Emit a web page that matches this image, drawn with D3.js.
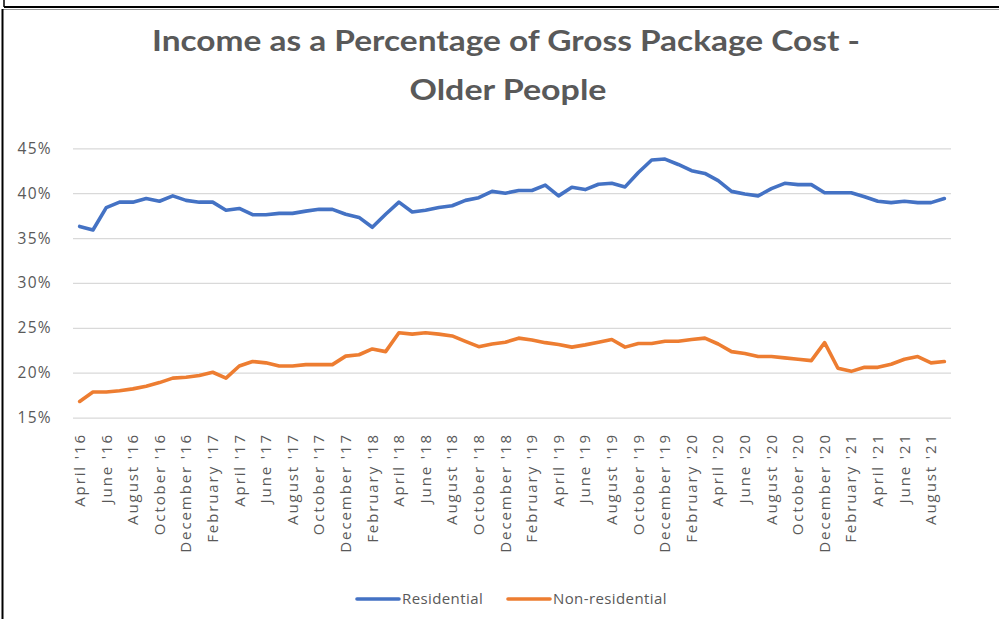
<!DOCTYPE html>
<html>
<head>
<meta charset="utf-8">
<script src="https://cdn.jsdelivr.net/npm/d3@7"></script>
<style>
  body { margin: 0; background: #fff; }
  svg { display: block; }
  text { fill: #595959; }
</style>
</head>
<body>
<div id="chart"></div>
<script>
// --- data ---
const monthNames = ["January", "February", "March", "April", "May", "June", "July", "August", "September", "October", "November", "December"];
// April '16 .. September '21, monthly
const months = d3.range(66).map(i => {
  const m = (3 + i) % 12;
  const y = 16 + Math.floor((3 + i) / 12);
  return monthNames[m] + " '" + y;
});

const residential = [
  36.3, 35.9, 38.4, 39.0, 39.0, 39.4, 39.1, 39.7, 39.2, 39.0, 39.0, 38.1, 38.3, 37.6, 37.6, 37.75, 37.75, 38.0, 38.2, 38.2,
  37.65, 37.3, 36.2, 37.65, 39.0, 37.9, 38.1, 38.4, 38.6, 39.2, 39.5, 40.2, 40.0, 40.3, 40.3, 40.9, 39.7, 40.65, 40.4, 41.0,
  41.1, 40.7, 42.3, 43.7, 43.8, 43.2, 42.5, 42.2, 41.4, 40.2, 39.9, 39.7, 40.5, 41.1, 40.95, 40.95, 40.05, 40.05, 40.05, 39.6,
  39.1, 38.95, 39.1, 38.95, 38.95, 39.4
];

const nonResidential = [
  16.8, 17.85, 17.85, 18.0, 18.2, 18.5, 18.9, 19.4, 19.5, 19.7, 20.05, 19.4, 20.75, 21.25, 21.1, 20.75, 20.75, 20.9, 20.9, 20.9,
  21.85, 22.0, 22.65, 22.35, 24.45, 24.3, 24.45, 24.3, 24.1, 23.5, 22.9, 23.2, 23.4, 23.85, 23.65, 23.35, 23.15, 22.85, 23.1, 23.4,
  23.7, 22.85, 23.25, 23.25, 23.5, 23.5, 23.7, 23.85, 23.2, 22.35, 22.15, 21.8, 21.8, 21.65, 21.5, 21.35, 23.35, 20.5, 20.15, 20.6,
  20.6, 20.95, 21.5, 21.8, 21.1, 21.25
];

const yTicks = [15, 20, 25, 30, 35, 40, 45];

const series = [
  { name: "Residential", values: residential, color: "#4472C4" },
  { name: "Non-residential", values: nonResidential, color: "#ED7D31" }
];

// --- layout ---
const width = 999, height = 619;
const plot = { left: 73, right: 951, top: 148.3, bottom: 417.6 };

const svg = d3.select("#chart").append("svg")
  .attr("width", width)
  .attr("height", height);

// frame lines (screenshot borders)
svg.append("line").attr("x1", 4).attr("y1", 0).attr("x2", 4).attr("y2", 7)
  .attr("stroke", "#000").attr("stroke-width", 1.5);
svg.append("line").attr("x1", 4).attr("y1", 7).attr("x2", 999).attr("y2", 7)
  .attr("stroke", "#000").attr("stroke-width", 2);
svg.append("line").attr("x1", 2).attr("y1", 9.5).attr("x2", 999).attr("y2", 9.5)
  .attr("stroke", "#999").attr("stroke-width", 1);
svg.append("line").attr("x1", 2.5).attr("y1", 9).attr("x2", 2.5).attr("y2", height)
  .attr("stroke", "#000").attr("stroke-width", 2);

// title (condensed look via textLength)
const title = svg.append("g")
  .style("font-family", "Lato, 'Open Sans', sans-serif")
  .style("font-weight", "bold");
title.append("text")
  .attr("x", 506).attr("y", 51)
  .attr("text-anchor", "middle")
  .attr("font-size", 29)
  .attr("textLength", 708)
  .attr("lengthAdjust", "spacingAndGlyphs")
  .text("Income as a Percentage of Gross Package Cost -");
title.append("text")
  .attr("x", 508).attr("y", 100)
  .attr("text-anchor", "middle")
  .attr("font-size", 29)
  .attr("textLength", 197)
  .attr("lengthAdjust", "spacingAndGlyphs")
  .text("Older People");

// scales
const x = d3.scaleBand()
  .domain(months)
  .range([plot.left, plot.right]);

const y = d3.scaleLinear()
  .domain([15, 45])
  .range([plot.bottom, plot.top]);

// gridlines + y labels
const yAxis = d3.axisLeft(y)
  .tickValues(yTicks)
  .tickSize(-(plot.right - plot.left))
  .tickPadding(21)
  .tickFormat(d => d + "%");

const yg = svg.append("g")
  .attr("transform", `translate(${plot.left},0)`)
  .call(yAxis);
yg.select(".domain").remove();
yg.selectAll("line").attr("stroke", "#D9D9D9").attr("stroke-width", 1.3);
yg.selectAll("text")
  .style("font-family", "'Open Sans', sans-serif")
  .attr("font-size", 15.5)
  .attr("letter-spacing", 1.3)
  .attr("fill", "#595959");

// x labels, every second month
const xg = svg.append("g")
  .style("font-family", "'Open Sans', sans-serif")
  .attr("font-size", 15);
xg.selectAll("text")
  .data(months.filter((d, i) => i % 2 === 0))
  .join("text")
  .attr("transform", d => `translate(${x(d) + x.bandwidth() / 2},433) rotate(-90)`)
  .attr("text-anchor", "end")
  .attr("dy", "0.35em")
  .attr("letter-spacing", 1.9)
  .text(d => d);

// lines
const line = d3.line()
  .x((d, i) => x(months[i]) + x.bandwidth() / 2)
  .y(d => y(d));

svg.append("g").selectAll("path")
  .data(series)
  .join("path")
  .attr("fill", "none")
  .attr("stroke", d => d.color)
  .attr("stroke-width", 3.6)
  .attr("stroke-linejoin", "round")
  .attr("stroke-linecap", "round")
  .attr("d", d => line(d.values));

// legend
const legendPos = [357, 508];
const legend = svg.append("g")
  .style("font-family", "'Open Sans', sans-serif")
  .attr("font-size", 15);
series.forEach((s, i) => {
  const g = legend.append("g").attr("transform", `translate(${legendPos[i]},599)`);
  g.append("line")
    .attr("x1", 0).attr("x2", 42)
    .attr("stroke", s.color)
    .attr("stroke-width", 3.6)
    .attr("stroke-linecap", "round");
  g.append("text")
    .attr("x", 45)
    .attr("dy", "0.35em")
    .attr("letter-spacing", 0.4)
    .text(s.name);
});
</script>
</body>
</html>
